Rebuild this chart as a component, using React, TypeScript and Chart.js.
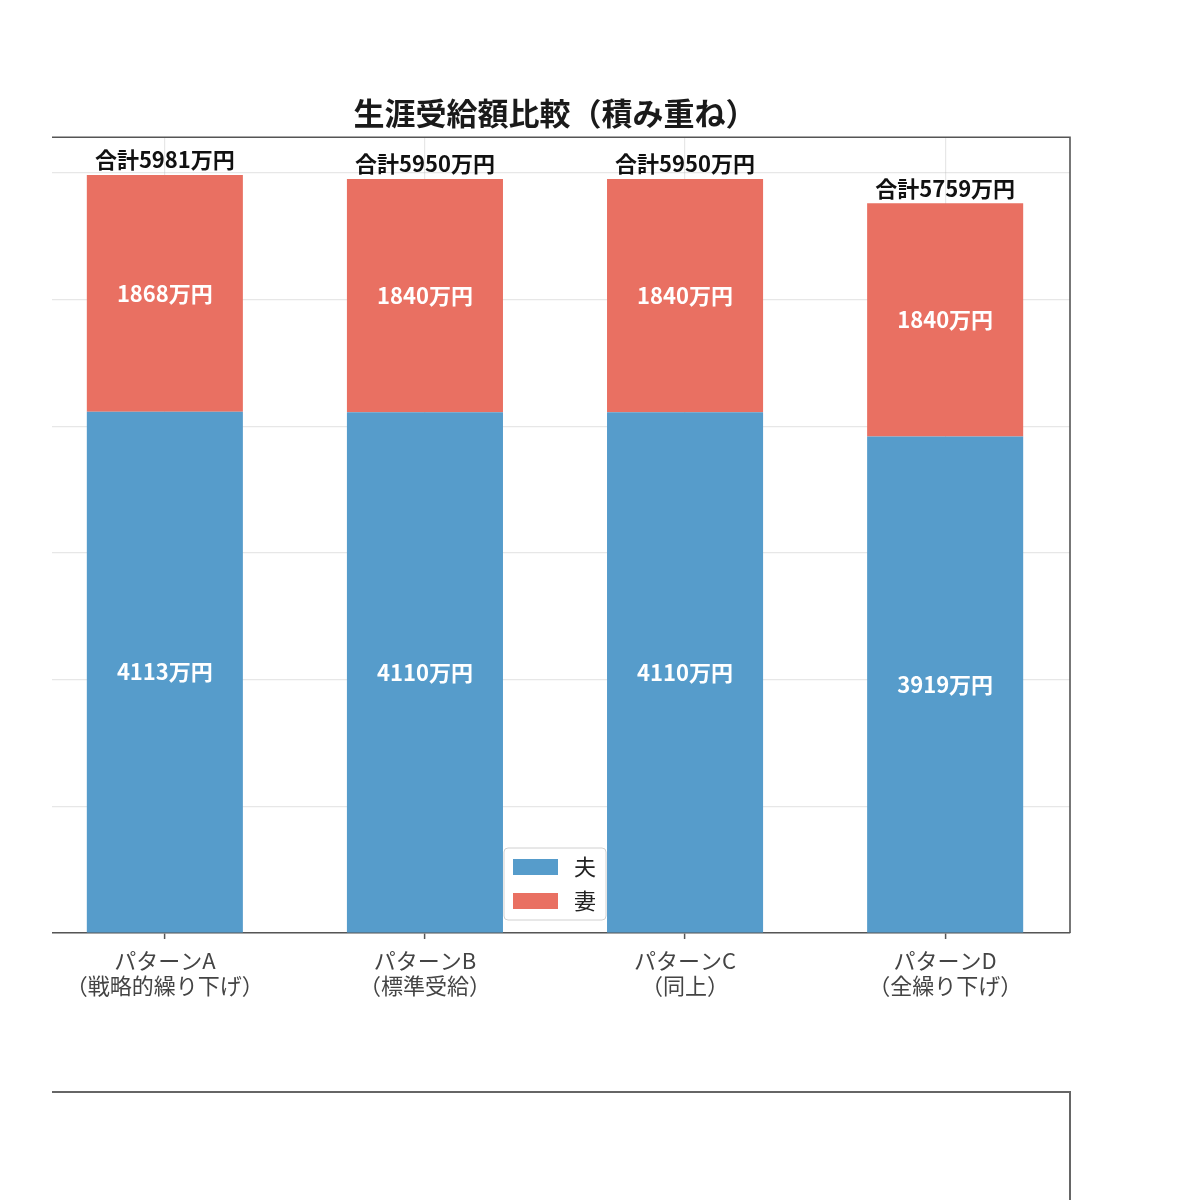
import React, { useEffect, useRef } from "react";
import { Chart, registerables } from "chart.js";

Chart.register(...registerables);

const categories: string[][] = [
  ["パターンA", "（戦略的繰り下げ）"],
  ["パターンB", "（標準受給）"],
  ["パターンC", "（同上）"],
  ["パターンD", "（全繰り下げ）"],
];
const seriesNames = ["夫", "妻"];
const husband = [4113, 4110, 4110, 3919];
const wife = [1868, 1840, 1840, 1840];
const totals = [5981, 5950, 5950, 5759];
const yTicks = [0, 1000, 2000, 3000, 4000, 5000, 6000];
const yMax = 6280;
const titleText = "生涯受給額比較（積み重ね）";
const unit = "万円";
const totalPrefix = "合計";

const FONT = "'Noto Sans CJK JP', 'Noto Sans', sans-serif";
const BLUE = "rgb(86,156,203)";
const RED = "rgb(233,112,98)";
const SPINE = "#555";

const overlayPlugin = {
  id: "overlay",
  afterDraw(chart: any) {
    const ctx = chart.ctx;
    const area = chart.chartArea;
    ctx.save();
    // spines (top and right)
    ctx.strokeStyle = SPINE;
    ctx.lineWidth = 1.6;
    ctx.beginPath();
    ctx.moveTo(area.left, area.top);
    ctx.lineTo(area.right, area.top);
    ctx.lineTo(area.right, area.bottom);
    ctx.stroke();

    // segment labels
    const m0 = chart.getDatasetMeta(0);
    const m1 = chart.getDatasetMeta(1);
    ctx.textAlign = "center";
    ctx.textBaseline = "middle";
    ctx.font = `bold 22px ${FONT}`;
    ctx.fillStyle = "#ffffff";
    [m0, m1].forEach((meta: any, di: number) => {
      const vals = di === 0 ? husband : wife;
      meta.data.forEach((bar: any, i: number) => {
        ctx.fillText(`${vals[i]}${unit}`, bar.x, (bar.y + bar.base) / 2);
      });
    });
    // totals
    ctx.fillStyle = "#111";
    ctx.textBaseline = "bottom";
    m1.data.forEach((bar: any, i: number) => {
      ctx.fillText(`${totalPrefix}${totals[i]}${unit}`, bar.x, bar.y - 4);
    });

    // legend (lower center)
    const bw = 102;
    const bh = 72;
    const cx = (area.left + area.right) / 2;
    const lx = cx - bw / 2;
    const ly = area.bottom - 13 - bh;
    ctx.fillStyle = "rgba(255,255,255,0.85)";
    ctx.strokeStyle = "#d0d0d0";
    ctx.lineWidth = 1;
    ctx.beginPath();
    (ctx as any).roundRect(lx, ly, bw, bh, 4);
    ctx.fill();
    ctx.stroke();
    ctx.font = `22px ${FONT}`;
    ctx.textAlign = "left";
    ctx.textBaseline = "middle";
    chart.data.datasets.forEach((ds: any, i: number) => {
      const ry = ly + 11 + i * 34;
      ctx.fillStyle = ds.backgroundColor;
      ctx.fillRect(lx + 9, ry, 45, 16);
      ctx.fillStyle = "#222";
      ctx.fillText(ds.label, lx + 70, ry + 8);
    });
    ctx.restore();
  },
};

export default function App() {
  const ref = useRef<HTMLCanvasElement | null>(null);
  useEffect(() => {
    if (!ref.current) return;
    const chart = new Chart(ref.current, {
      type: "bar",
      data: {
        datasets: [
          {
            label: seriesNames[0],
            data: husband.map((v, i) => ({ x: i, y: v })),
            backgroundColor: BLUE,
            borderWidth: 0,
          },
          {
            label: seriesNames[1],
            data: wife.map((v, i) => ({ x: i, y: v })),
            backgroundColor: RED,
            borderWidth: 0,
          },
        ],
      },
      options: {
        responsive: false,
        animation: false,
        devicePixelRatio: 1,
        layout: { padding: { left: 40, right: 130, top: 0, bottom: 0 } },
        datasets: { bar: { categoryPercentage: 1, barPercentage: 0.6 } },
        plugins: {
          legend: { display: false },
          tooltip: { enabled: false },
          title: {
            display: true,
            text: titleText,
            fullSize: false,
            color: "#1a1a1a",
            font: { family: FONT, size: 31, weight: "bold", lineHeight: 1.2 },
            padding: { top: 95, bottom: 5 },
          },
        },
        scales: {
          x: {
            type: "linear",
            stacked: true,
            min: -0.48,
            max: 3.48,
            offset: false,
            z: 1,
            afterBuildTicks: (scale: any) => {
              scale.ticks = categories.map((_, i) => ({ value: i }));
            },
            afterFit: (scale: any) => {
              scale.height = 127;
            },
            grid: {
              offset: false,
              color: "rgba(176,176,176,0.3)",
              lineWidth: 1.2,
              tickLength: 6,
              tickColor: SPINE,
              tickWidth: 1.5,
            },
            border: { display: true, color: SPINE, width: 1.6 },
            ticks: {
              padding: 10,
              color: "#444",
              font: { family: FONT, size: 22, lineHeight: 1.1 },
              maxRotation: 0,
              autoSkip: false,
              callback: (v: any) => categories[Math.round(v)] ?? "",
            },
          },
          y: {
            stacked: true,
            min: 0,
            max: yMax,
            z: 1,
            afterBuildTicks: (scale: any) => {
              scale.ticks = yTicks.map((v) => ({ value: v }));
            },
            afterFit: (scale: any) => {
              scale.width = 0;
            },
            grid: {
              color: "rgba(176,176,176,0.3)",
              lineWidth: 1.2,
              drawTicks: false,
            },
            border: { display: false },
            ticks: { display: false },
          },
        },
      },
      plugins: [overlayPlugin],
    } as any);
    return () => chart.destroy();
  }, []);

  return (
    <div
      style={{
        position: "absolute",
        left: 0,
        top: 0,
        width: 1200,
        height: 1200,
        overflow: "hidden",
        background: "#fff",
      }}
    >
      <div
        style={{
          position: "absolute",
          left: 52,
          top: 0,
          width: 1148,
          height: 1060,
          overflow: "hidden",
        }}
      >
        <canvas
          ref={ref}
          width={1200}
          height={1060}
          style={{ position: "absolute", left: -52, top: 0, width: 1200, height: 1060 }}
        />
      </div>
      <div
        style={{
          position: "absolute",
          left: 52,
          top: 1091,
          width: 1019,
          height: 120,
          borderTop: "2px solid #666",
          borderRight: "2px solid #666",
          boxSizing: "border-box",
        }}
      />
    </div>
  );
}
